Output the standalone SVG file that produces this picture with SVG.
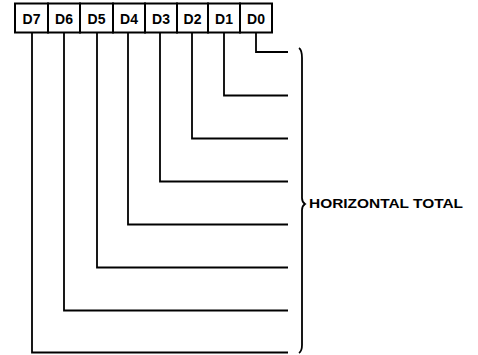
<svg xmlns="http://www.w3.org/2000/svg" width="478" height="355" viewBox="0 0 478 355">
<style>
.box{fill:#fff;stroke:#000;stroke-width:2}
.lbl{font-family:"Liberation Sans",Arial,sans-serif;font-weight:bold;font-size:14px;text-anchor:middle;fill:#000}
.wire{fill:none;stroke:#000;stroke-width:1.8}
.ttl{font-family:"Liberation Sans",Arial,sans-serif;font-weight:bold;font-size:12.5px;fill:#000}
</style>
<rect x="0" y="0" width="478" height="355" fill="#fff"/>
<g id="register">
<g id="D7"><rect class="box" x="15" y="3.5" width="33" height="29"/><text class="lbl" x="31.5" y="24">D7</text></g>
<g id="D6"><rect class="box" x="48" y="3.5" width="32" height="29"/><text class="lbl" x="64" y="24">D6</text></g>
<g id="D5"><rect class="box" x="80" y="3.5" width="33" height="29"/><text class="lbl" x="96.5" y="24">D5</text></g>
<g id="D4"><rect class="box" x="113" y="3.5" width="32" height="29"/><text class="lbl" x="129" y="24">D4</text></g>
<g id="D3"><rect class="box" x="145" y="3.5" width="32" height="29"/><text class="lbl" x="161" y="24">D3</text></g>
<g id="D2"><rect class="box" x="177" y="3.5" width="31" height="29"/><text class="lbl" x="192.5" y="24">D2</text></g>
<g id="D1"><rect class="box" x="208" y="3.5" width="32" height="29"/><text class="lbl" x="224" y="24">D1</text></g>
<g id="D0"><rect class="box" x="240" y="3.5" width="32" height="29"/><text class="lbl" x="256" y="24">D0</text></g>
</g>
<g id="connectors">
<polyline class="wire" points="256,32.5 256,52 288,52"/>
<polyline class="wire" points="224,32.5 224,95.5 288,95.5"/>
<polyline class="wire" points="192,32.5 192,138.5 288,138.5"/>
<polyline class="wire" points="160,32.5 160,181.5 288,181.5"/>
<polyline class="wire" points="128,32.5 128,224.5 288,224.5"/>
<polyline class="wire" points="97,32.5 97,267.5 288,267.5"/>
<polyline class="wire" points="64,32.5 64,310.5 288,310.5"/>
<polyline class="wire" points="32,32.5 32,352.5 288,352.5"/>
</g>
<g id="brace">
<path class="wire" d="M299,48 Q302,50 302,58 L302,198 Q302,202 305,204 Q302,206 302,210 L302,345 Q302,351 299,353"/>
<text class="ttl" x="309" y="208" textLength="154" lengthAdjust="spacingAndGlyphs">HORIZONTAL TOTAL</text>
</g>
</svg>
